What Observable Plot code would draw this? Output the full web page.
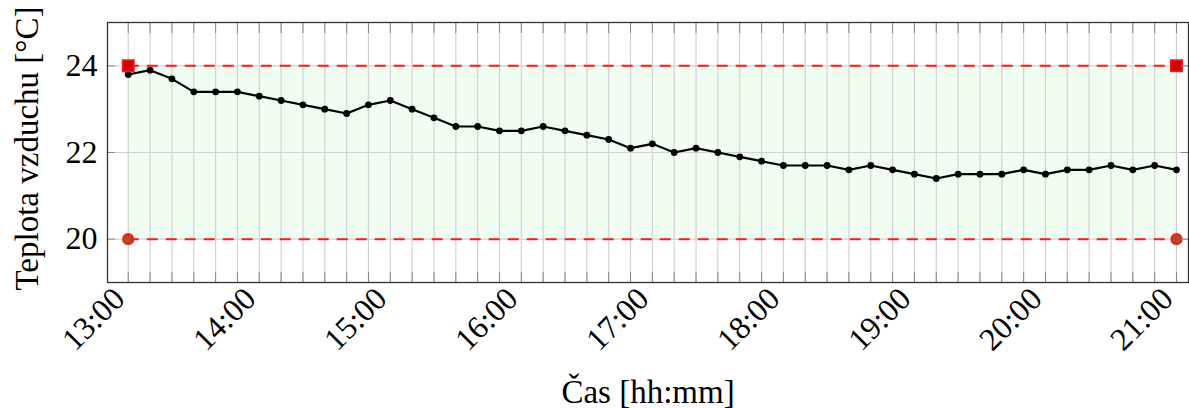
<!DOCTYPE html>
<html>
<head>
<meta charset="utf-8">
<script src="https://cdn.jsdelivr.net/npm/d3@7"></script>
<script src="https://cdn.jsdelivr.net/npm/@observablehq/plot@0.6"></script>
<style>
  html, body { margin: 0; padding: 0; background: #fff; font-family: "Liberation Serif", serif; }
</style>
</head>
<body>
<div id="chart"></div>
<script>
// ---- data ----
const times = [
  "13:00","13:10","13:20","13:30","13:40","13:50",
  "14:00","14:10","14:20","14:30","14:40","14:50",
  "15:00","15:10","15:20","15:30","15:40","15:50",
  "16:00","16:10","16:20","16:30","16:40","16:50",
  "17:00","17:10","17:20","17:30","17:40","17:50",
  "18:00","18:10","18:20","18:30","18:40","18:50",
  "19:00","19:10","19:20","19:30","19:40","19:50",
  "20:00","20:10","20:20","20:30","20:40","20:50",
  "21:00"
];
const temps = [
  23.8, 23.9, 23.7, 23.4, 23.4, 23.4,
  23.3, 23.2, 23.1, 23.0, 22.9, 23.1,
  23.2, 23.0, 22.8, 22.6, 22.6, 22.5,
  22.5, 22.6, 22.5, 22.4, 22.3, 22.1,
  22.2, 22.0, 22.1, 22.0, 21.9, 21.8,
  21.7, 21.7, 21.7, 21.6, 21.7, 21.6,
  21.5, 21.4, 21.5, 21.5, 21.5, 21.6,
  21.5, 21.6, 21.6, 21.7, 21.6, 21.7,
  21.6
];
const hourLabels = ["13:00","14:00","15:00","16:00","17:00","18:00","19:00","20:00","21:00"];
const yTicks = [20, 22, 24];
const limitLow = 20;
const limitHigh = 24;
const xDomain = ["12:50:30", "21:05:30"];
const yDomain = [19, 25];
const yLabel = "Teplota vzduchu [°C]";
const xLabel = "Čas [hh:mm]";
const FONT = "Liberation Serif, DejaVu Serif, serif";

// ---- helpers ----
const parseT = s => {
  const p = s.split(":").map(Number);
  return new Date(Date.UTC(2000, 0, 1, p[0], p[1], p[2] || 0));
};
const tDates = times.map(parseT);
const hourDates = hourLabels.map(parseT);
const data = tDates.map((t, i) => ({t, v: temps[i]}));
const band = tDates.map(t => ({t, lo: limitLow, hi: limitHigh}));
const ends = [tDates[0], tDates[tDates.length - 1]];
const markHi = ends.map(t => ({t, v: limitHigh}));
const markLo = ends.map(t => ({t, v: limitLow}));

const chart = Plot.plot({
  width: 1189,
  height: 408,
  marginLeft: 107,
  marginRight: 1,
  marginTop: 22,
  marginBottom: 126,
  style: {fontFamily: FONT, fontSize: "32px", background: "#fff", color: "#000"},
  x: {type: "utc", domain: xDomain.map(parseT)},
  y: {domain: yDomain},
  marks: [
    Plot.areaY(band, {x: "t", y1: "lo", y2: "hi", fill: "#f1fdf1"}),
    Plot.ruleX(tDates, {stroke: "#d2d2d2", strokeWidth: 1.2}),
    Plot.ruleY(yTicks, {stroke: "#d2d2d2", strokeWidth: 1.2}),
    Plot.ruleY([limitHigh, limitLow], {x1: ends[0], x2: ends[1], stroke: "#ff1a1a", strokeWidth: 2, strokeDasharray: "11,8"}),
    Plot.line(data, {x: "t", y: "v", stroke: "#000", strokeWidth: 2.2}),
    Plot.dot(data, {x: "t", y: "v", r: 3.4, fill: "#000"}),
    Plot.dot(markHi, {x: "t", y: "v", symbol: "square", r: 6.5, fill: "#d00000", stroke: "#ff1a1a", strokeWidth: 1.5}),
    Plot.dot(markLo, {x: "t", y: "v", r: 5, fill: "#a0522d", stroke: "#ff1a1a", strokeWidth: 2.2}),
    // tick marks inside the frame
    Plot.axisX(tDates, {anchor: "bottom", tickSize: -10, stroke: "#888", fill: "none", label: null}),
    Plot.axisX(tDates, {anchor: "top", tickSize: -10, stroke: "#888", fill: "none", label: null}),
    Plot.axisY(yTicks, {anchor: "left", tickSize: -8, stroke: "#888", fill: "none", label: null}),
    Plot.axisY(yTicks, {anchor: "right", tickSize: -8, stroke: "#888", fill: "none", label: null}),
    // tick labels
    Plot.axisX(hourDates, {anchor: "bottom", tickSize: 0, tickPadding: 8, tickRotate: -45, dx: -9, dy: 3, fontFamily: FONT, fontSize: 32, tickFormat: d3.utcFormat("%H:%M"), label: null}),
    Plot.axisY(yTicks, {anchor: "left", tickSize: 0, tickPadding: 10, fontFamily: FONT, fontSize: 32, label: null}),
    // axis titles
    Plot.text([yLabel], {frameAnchor: "left", textAnchor: "middle", dx: -80, dy: -4, rotate: -90, fontSize: 33, fontFamily: FONT}),
    Plot.text([xLabel], {frameAnchor: "bottom", textAnchor: "middle", dy: 120, fontSize: 33, fontFamily: FONT}),
    Plot.frame({stroke: "#333", strokeWidth: 1.3})
  ]
});
chart.querySelectorAll("text, g").forEach(el => {
  el.setAttribute("font-family", FONT);
  el.style.fontFamily = FONT;
});
document.getElementById("chart").appendChild(chart);
</script>
</body>
</html>
